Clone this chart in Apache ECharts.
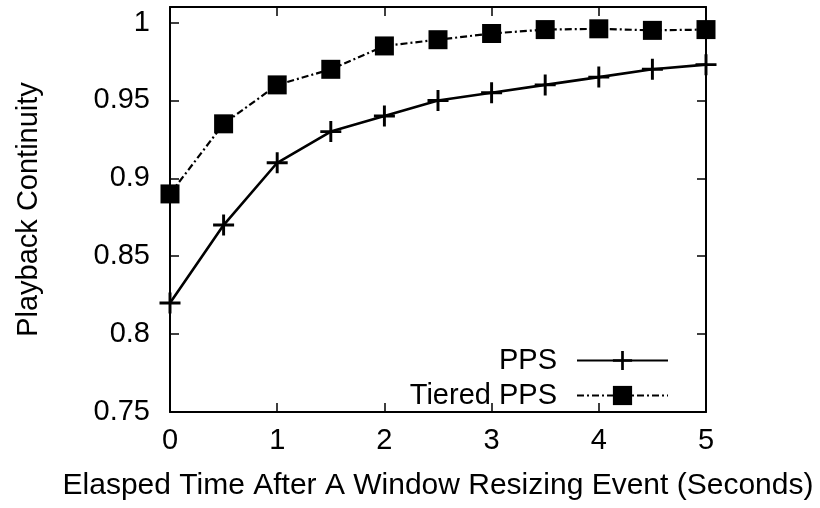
<!DOCTYPE html>
<html>
<head>
<meta charset="utf-8">
<script src="https://cdn.jsdelivr.net/npm/echarts@6/dist/echarts.min.js"></script>
<style>html,body{margin:0;padding:0;background:#fff}#c{width:820px;height:508px}</style>
</head>
<body>
<div id="c"></div>
<script>
const xValues = [0, 0.5, 1, 1.5, 2, 2.5, 3, 3.5, 4, 4.5, 5];
const ppsValues = [0.820, 0.870, 0.910, 0.930, 0.940, 0.950, 0.955, 0.960, 0.965, 0.970, 0.973];
const tieredValues = [0.890, 0.935, 0.960, 0.970, 0.985, 0.989, 0.993, 0.9955, 0.996, 0.995, 0.9955];
const seriesNames = ['PPS', 'Tiered PPS'];
const xTitle = 'Elasped Time After A Window Resizing Event (Seconds)';
const yTitle = 'Playback Continuity';

const FONT = '"Liberation Sans", Arial, Helvetica, sans-serif';
const FS = 29;
const plusPath = 'path://M-0.07,-0.5L0.07,-0.5L0.07,-0.07L0.5,-0.07L0.5,0.07L0.07,0.07L0.07,0.5L-0.07,0.5L-0.07,0.07L-0.5,0.07L-0.5,-0.07L-0.07,-0.07Z';

const chart = echarts.init(document.getElementById('c'), null, {renderer: 'canvas'});
const axisLine = {show: true, onZero: false, lineStyle: {color: '#000', width: 2}};
const tick = {show: true, inside: true, length: 9, lineStyle: {color: '#000', width: 1.5}};
const yFmt = v => (v > 1.005 ? '' : String(+v.toFixed(2)));

chart.setOption({
  animation: false,
  backgroundColor: '#fff',
  textStyle: {fontFamily: FONT, color: '#000'},
  grid: {left: 170, right: 114, top: 7, bottom: 96, containLabel: false},
  legend: {
    orient: 'vertical',
    align: 'right',
    right: 151,
    top: 346,
    padding: 0,
    itemWidth: 91,
    itemHeight: 24,
    itemGap: 6,
    textStyle: {fontFamily: FONT, fontSize: FS, color: '#000', padding: [0, 15, 0, 0]},
    data: seriesNames
  },
  xAxis: [{
    type: 'value', min: 0, max: 5, interval: 1, position: 'bottom',
    name: xTitle, nameLocation: 'middle', nameGap: 59,
    nameTextStyle: {fontFamily: FONT, fontSize: 30, color: '#000'},
    axisLine: axisLine, axisTick: tick,
    axisLabel: {fontFamily: FONT, fontSize: FS, color: '#000', margin: 14},
    splitLine: {show: false}
  }, {
    type: 'value', min: 0, max: 5, interval: 1, position: 'top',
    axisLine: axisLine, axisTick: tick, axisLabel: {show: false}, splitLine: {show: false}
  }],
  yAxis: [{
    type: 'value', min: 0.75, max: 1.01, interval: 0.05, position: 'left',
    name: yTitle, nameLocation: 'middle', nameGap: 127, nameRotate: 90,
    nameTextStyle: {fontFamily: FONT, fontSize: FS, color: '#000'},
    axisLine: axisLine, axisTick: tick,
    axisLabel: {fontFamily: FONT, fontSize: FS, color: '#000', margin: 20, formatter: yFmt},
    splitLine: {show: false}
  }, {
    type: 'value', min: 0.75, max: 1.01, interval: 0.05, position: 'right',
    axisLine: axisLine, axisTick: tick, axisLabel: {show: false}, splitLine: {show: false}
  }],
  series: [{
    name: seriesNames[0], type: 'line', xAxisIndex: 0, yAxisIndex: 0,
    data: xValues.map((x, i) => [x, ppsValues[i]]),
    symbol: plusPath, symbolSize: 21, showAllSymbol: true,
    itemStyle: {color: '#000'},
    lineStyle: {color: '#000', width: 2.6, type: 'solid'}
  }, {
    name: seriesNames[1], type: 'line', xAxisIndex: 0, yAxisIndex: 0,
    data: xValues.map((x, i) => [x, tieredValues[i]]),
    symbol: 'rect', symbolSize: 19, showAllSymbol: true,
    itemStyle: {color: '#000'},
    lineStyle: {color: '#000', width: 2.2, type: [7, 3, 2, 3]}
  }]
});
</script>
</body>
</html>
